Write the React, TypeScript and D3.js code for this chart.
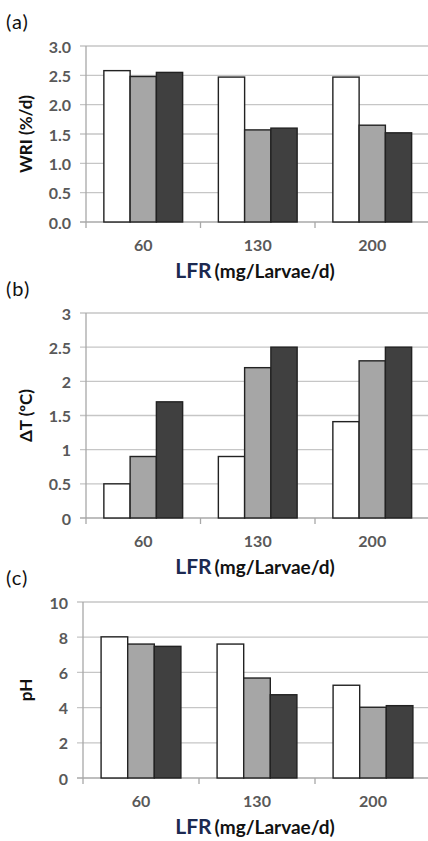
import React from "react";
import * as d3 from "d3";

// LFR levels (mg/Larvae/d)
const categories = ["60", "130", "200"];
const seriesKeys = ["s1", "s2", "s3"];
const seriesFill = ["#ffffff", "#a6a6a6", "#404040"];

// (a) WRI (%/d)
const wri1 = [2.58, 2.47, 2.47];
const wri2 = [2.48, 1.57, 1.65];
const wri3 = [2.55, 1.6, 1.52];
const wriTicks = [0, 0.5, 1, 1.5, 2, 2.5, 3];

// (b) delta T (ºC)
const dt1 = [0.5, 0.9, 1.41];
const dt2 = [0.9, 2.2, 2.3];
const dt3 = [1.7, 2.5, 2.5];
const dtTicks = [0, 0.5, 1, 1.5, 2, 2.5, 3];

// (c) pH
const ph1 = [8.02, 7.61, 5.27];
const ph2 = [7.61, 5.68, 4.02];
const ph3 = [7.48, 4.73, 4.11];
const phTicks = [0, 2, 4, 6, 8, 10];

const FONT = "Lato, 'Open Sans', sans-serif";

type PanelProps = {
  tag: string;
  yLabel: string;
  values: number[][];
  ticks: number[];
  fmt: (v: number) => string;
  top: number;
  bottom: number;
  left: number;
  band: number;
};

const Panel = ({ tag, yLabel, values, ticks, fmt, top, bottom, left, band }: PanelProps) => {
  const yMax = ticks[ticks.length - 1];
  const y = d3.scaleLinear().domain([0, yMax]).range([bottom, top]);
  const x = d3
    .scaleBand<string>()
    .domain(categories)
    .range([left, left + band * categories.length])
    .paddingInner(0)
    .paddingOuter(0);
  const xs = d3
    .scaleBand<string>()
    .domain(seriesKeys)
    .range([0, x.bandwidth()])
    .paddingInner(0)
    .paddingOuter(0.68);

  const boundaries = categories.map((c) => x(c) as number).concat([left + band * categories.length]);

  return (
    <g>
      <text x={6} y={top - 17} fontFamily={FONT} fontSize={20} letterSpacing={1} fill="#111">
        {tag}
      </text>
      {/* gridlines */}
      {ticks.map((t) => (
        <line key={"g" + t} x1={left - 6} x2={428} y1={y(t)} y2={y(t)} stroke={t === 0 ? "#a8a8a8" : "#c6c6c6"} strokeWidth={1.3} />
      ))}
      {/* y axis */}
      <line x1={left} x2={left} y1={top} y2={bottom} stroke="#a8a8a8" strokeWidth={1.3} />
      {/* x ticks at band edges */}
      {boundaries.map((b, i) => (
        <line key={"xt" + i} x1={b} x2={b} y1={bottom} y2={bottom + 6} stroke="#a8a8a8" strokeWidth={1.3} />
      ))}
      {ticks.map((t) => (
        <text
          key={"yl" + t}
          x={left - 15}
          y={y(t)}
          textAnchor="end"
          dominantBaseline="central"
          fontFamily={FONT}
          fontWeight={700}
          fontSize={16}
          fill="#595959"
        >
          {fmt(t)}
        </text>
      ))}
      {/* bars */}
      {categories.map((c, ci) =>
        seriesKeys.map((s, si) => {
          const v = values[si][ci];
          const bx = (x(c) as number) + (xs(s) as number);
          return (
            <rect
              key={c + s}
              x={bx}
              y={y(v)}
              width={xs.bandwidth()}
              height={bottom - y(v)}
              fill={seriesFill[si]}
              stroke="#222"
              strokeWidth={1.4}
            />
          );
        })
      )}
      {categories.map((c) => (
        <text
          key={"xl" + c}
          x={(x(c) as number) + x.bandwidth() / 2}
          y={bottom + 29}
          textAnchor="middle"
          fontFamily={FONT}
          fontWeight={700}
          fontSize={16}
          fill="#595959"
        >
          {c}
        </text>
      ))}
      <text x={255} y={bottom + 56} textAnchor="middle" fontFamily={FONT} fontWeight={700} fill="#111">
        <tspan fontSize={21} fill="#1c2950">LFR</tspan>
        <tspan fontSize={19} dx={3}>(mg/Larvae/d)</tspan>
      </text>
      <text
        transform={`translate(25,${(top + bottom) / 2}) rotate(-90)`}
        textAnchor="middle"
        dominantBaseline="central"
        fontFamily={FONT}
        fontWeight={700}
        fontSize={17}
        fill="#111"
      >
        {yLabel}
      </text>
    </g>
  );
};

const App = () => {
  return (
    <svg width={428} height={841} style={{ position: "absolute", left: 0, top: 0, background: "#fff" }}>
      <rect width={428} height={841} fill="#fff" />
      <Panel
        tag="(a)"
        yLabel="WRI (%/d)"
        values={[wri1, wri2, wri3]}
        ticks={wriTicks}
        fmt={d3.format(".1f")}
        top={46}
        bottom={222}
        left={86}
        band={114.5}
      />
      <Panel
        tag="(b)"
        yLabel="ΔT (ºC)"
        values={[dt1, dt2, dt3]}
        ticks={dtTicks}
        fmt={(v) => String(v)}
        top={313}
        bottom={518}
        left={86}
        band={114.5}
      />
      <Panel
        tag="(c)"
        yLabel="pH"
        values={[ph1, ph2, ph3]}
        ticks={phTicks}
        fmt={(v) => String(v)}
        top={602}
        bottom={778}
        left={83}
        band={116}
      />
    </svg>
  );
};

export default App;
